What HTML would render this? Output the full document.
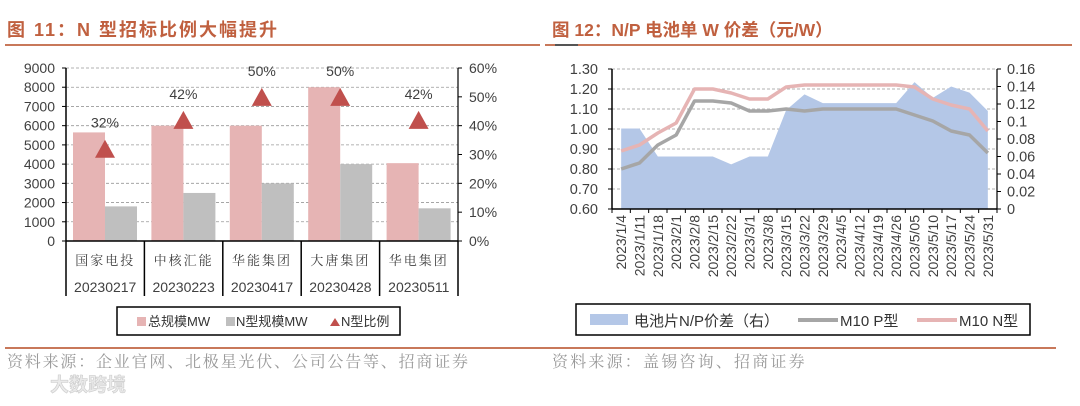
<!DOCTYPE html>
<html><head><meta charset="utf-8">
<style>
body{margin:0;background:#fff;width:1080px;height:401px;overflow:hidden;font-family:"Liberation Sans","Noto Sans CJK SC",sans-serif}
svg text{font-family:"Liberation Sans","Noto Sans CJK SC",sans-serif}
svg text.serif{font-family:"Liberation Serif","Noto Serif CJK SC",serif}
</style></head><body>
<svg id="s" width="1080" height="401" viewBox="0 0 1080 401" xmlns="http://www.w3.org/2000/svg">
<text x="7" y="36" font-size="18" font-weight="bold" letter-spacing="2" fill="#c0603f">图 11：N 型招标比例大幅提升</text>
<line x1="5" y1="45" x2="540" y2="45" stroke="#c8785a" stroke-width="2"/>
<text x="552" y="36" font-size="17.5" font-weight="bold" fill="#c0603f">图 12：N/P 电池单 W 价差（元/W）</text>
<line x1="545" y1="45" x2="1072" y2="45" stroke="#c8785a" stroke-width="2"/>
<line x1="555" y1="45" x2="578" y2="45" stroke="#555" stroke-width="2"/>
<g id="L"></g><g id="R"></g>
<rect x="117" y="307" width="283" height="28" fill="#fff" stroke="#000" stroke-width="1.5"/>
<rect x="137" y="317" width="9" height="9" fill="#e6b4b4"/>
<text x="148" y="326" font-size="13" fill="#333">总规模MW</text>
<rect x="226" y="317" width="9" height="9" fill="#bfbfbf"/>
<text x="236" y="326" font-size="13" fill="#333">N型规模MW</text>
<polygon points="330,326 340,326 335,318" fill="#c0504d"/>
<text x="341" y="326" font-size="13" fill="#333">N型比例</text>
<rect x="576" y="304" width="454" height="31" fill="#fff" stroke="#000" stroke-width="1.5"/>
<rect x="590" y="314" width="38" height="11" fill="#b4c7e7"/>
<text x="634" y="326" font-size="15" fill="#333">电池片N/P价差（右）</text>
<line x1="798" y1="320" x2="838" y2="320" stroke="#a6a6a6" stroke-width="4"/>
<text x="840" y="326" font-size="15" fill="#333">M10 P型</text>
<line x1="917" y1="320" x2="957" y2="320" stroke="#e6b4b4" stroke-width="4"/>
<text x="959" y="326" font-size="15" fill="#333">M10 N型</text>
<line x1="5" y1="348" x2="540" y2="348" stroke="#c8785a" stroke-width="2"/>
<line x1="540" y1="348" x2="1056" y2="348" stroke="#c8785a" stroke-width="2"/>
<text class="serif" x="7" y="367" font-size="16" letter-spacing="1.8" fill="#999">资料来源：企业官网、北极星光伏、公司公告等、招商证券</text>
<text class="serif" x="552" y="367" font-size="16" letter-spacing="2.2" fill="#999">资料来源：盖锡咨询、招商证券</text>
<text x="50" y="391" font-size="19" font-weight="bold" fill="#eaeaea" stroke="#ccc" stroke-width="0.6">大数跨境</text>
</svg>
<script>
const NS='http://www.w3.org/2000/svg';
function mk(p,t,a){const e=document.createElementNS(NS,t);for(const k in a)e.setAttribute(k,a[k]);p.appendChild(e);return e;}
// ---- Left chart data ----
const leftCats=['国家电投','中核汇能','华能集团','大唐集团','华电集团'];
const leftDates=['20230217','20230223','20230417','20230428','20230511'];
const totalMW=[5650,6000,6000,8000,4050];
const nMW=[1800,2500,3000,4000,1700];
const nRatio=[32,42,50,50,42];
const leftTicks=[0,1000,2000,3000,4000,5000,6000,7000,8000,9000];
const rightPctTicks=[0,10,20,30,40,50,60];
// ---- Right chart data ----
const rDates=['2023/1/4','2023/1/11','2023/1/18','2023/2/1','2023/2/8','2023/2/15','2023/2/22','2023/3/1','2023/3/8','2023/3/15','2023/3/22','2023/3/29','2023/4/5','2023/4/12','2023/4/19','2023/4/26','2023/5/05','2023/5/10','2023/5/17','2023/5/24','2023/5/31'];
const pPrice=[0.80,0.83,0.92,0.97,1.14,1.14,1.13,1.09,1.09,1.10,1.09,1.10,1.10,1.10,1.10,1.10,1.07,1.04,0.99,0.97,0.88];
const nPrice=[0.89,0.92,0.98,1.03,1.20,1.20,1.18,1.15,1.15,1.21,1.22,1.22,1.22,1.22,1.22,1.22,1.21,1.15,1.12,1.10,0.99];
const spread=[0.092,0.092,0.060,0.060,0.060,0.060,0.051,0.060,0.060,0.113,0.131,0.121,0.121,0.121,0.121,0.121,0.145,0.127,0.140,0.133,0.112];
const rLeftTicks=['0.60','0.70','0.80','0.90','1.00','1.10','1.20','1.30'];
const rRightTicks=['0','0.02','0.04','0.06','0.08','0.1','0.12','0.14','0.16'];

(function(){
const g=document.getElementById('L');
const x0=66,x1=458,yT=68,yB=241,n=leftCats.length,bw=(x1-x0)/n;
const y=v=>yB-(v/9000)*(yB-yT), y2=v=>yB-(v/60)*(yB-yT);
leftTicks.forEach(t=>{
  if(t>0){const l=mk(g,'line',{x1:x0,x2:x1,y1:y(t),y2:y(t),stroke:'#999','stroke-dasharray':'3,2','stroke-width':0.8});
  
  }
  const tx=mk(g,'text',{x:x0-11,y:y(t)+5,'font-size':14,fill:'#404040','text-anchor':'end'});tx.textContent=t;
  
  
  const tk=mk(g,'line',{x1:x0-4,x2:x0,y1:y(t),y2:y(t),stroke:'#000'});
  
  
});
rightPctTicks.forEach(t=>{
  const tx=mk(g,'text',{x:x1+11,y:y2(t)+5,'font-size':14,fill:'#404040'});tx.textContent=t+'%';
  
  
  const tk=mk(g,'line',{x1:x1,x2:x1+4,y1:y2(t),y2:y2(t),stroke:'#000'});
  
  
});
for(let i=0;i<n;i++){
  const cx=x0+i*bw;
  const b1=mk(g,'rect',{x:cx+7,y:y(totalMW[i]),width:32,height:yB-y(totalMW[i]),fill:'#e6b4b4'});
  
  
  const b2=mk(g,'rect',{x:cx+39,y:y(nMW[i]),width:32,height:yB-y(nMW[i]),fill:'#bfbfbf'});
  
  
  const ty=y2(nRatio[i]), tx=cx+39;
  const tri=mk(g,'polygon',{points:`${tx-10},${ty+9} ${tx+10},${ty+9} ${tx},${ty-9}`,fill:'#c0504d'});
  
  
  const lb=mk(g,'text',{x:tx,y:ty-21,'font-size':14,fill:'#404040','text-anchor':'middle'});lb.textContent=nRatio[i]+'%';
  
  
  const c=mk(g,'text',{x:cx+bw/2,y:265,'font-size':13,fill:'#404040','text-anchor':'middle','letter-spacing':'2',class:'serif'});c.textContent=leftCats[i];
  
  
  const d=mk(g,'text',{x:cx+bw/2,y:292,'font-size':14,fill:'#404040','text-anchor':'middle'});d.textContent=leftDates[i];
  
  
}
for(let i=0;i<=n;i++){const l=mk(g,'line',{x1:x0+i*bw,x2:x0+i*bw,y1:yB,y2:296,stroke:'#000','stroke-width':1.5});
  
  }
const a1=mk(g,'line',{x1:x0,x2:x0,y1:yT,y2:yB,stroke:'#000','stroke-width':1.5});


const a2=mk(g,'line',{x1:x1,x2:x1,y1:yT,y2:yB,stroke:'#000','stroke-width':1.2});


const a3=mk(g,'line',{x1:x0,x2:x1,y1:yB,y2:yB,stroke:'#000','stroke-width':1.5});


})();

(function(){
const g=document.getElementById('R');
const x0=612,x1=997,yT=69,yB=209,n=rDates.length,bw=(x1-x0)/n;
const xc=i=>x0+bw*(i+0.5);
const y=v=>yB-(v-0.6)/0.7*(yB-yT), y2=v=>yB-(v/0.16)*(yB-yT);
rLeftTicks.forEach(t=>{const v=+t;
  if(v>0.6){const l=mk(g,'line',{x1:x0,x2:x1,y1:y(v),y2:y(v),stroke:'#999','stroke-dasharray':'3,2','stroke-width':0.8});
  
  }
  const tx=mk(g,'text',{x:x0-14,y:y(v)+5,'font-size':14.5,fill:'#404040','text-anchor':'end'});tx.textContent=t;
  
  
  const tk=mk(g,'line',{x1:x0-4,x2:x0,y1:y(v),y2:y(v),stroke:'#000'});
  
  
});
let d=`M${xc(0)},${yB}`;spread.forEach((v,i)=>d+=` L${xc(i)},${y2(v)}`);d+=` L${xc(n-1)},${yB}Z`;
const ar=mk(g,'path',{d:d,fill:'#b4c7e7'});


rRightTicks.forEach(t=>{const v=+t;
  const tx=mk(g,'text',{x:x1+10,y:y2(v)+5,'font-size':14.5,fill:'#404040'});tx.textContent=t;
  
  
  const tk=mk(g,'line',{x1:x1,x2:x1+4,y1:y2(v),y2:y2(v),stroke:'#000'});
  
  
});
const lp=mk(g,'polyline',{points:pPrice.map((v,i)=>xc(i)+','+y(v)).join(' '),fill:'none',stroke:'#a6a6a6','stroke-width':3.5,'stroke-linejoin':'round'});


const ln=mk(g,'polyline',{points:nPrice.map((v,i)=>xc(i)+','+y(v)).join(' '),fill:'none',stroke:'#e6b4b4','stroke-width':3.5,'stroke-linejoin':'round'});


for(let i=0;i<=n;i++){const tk=mk(g,'line',{x1:x0+i*bw,x2:x0+i*bw,y1:yB,y2:yB+4,stroke:'#000'});
  
  }
rDates.forEach((t,i)=>{
  const tx=mk(g,'text',{x:0,y:0,'font-size':14,fill:'#404040','text-anchor':'end',transform:`translate(${xc(i)+5},215) rotate(-90)`});tx.textContent=t;
  
  
});
const a1=mk(g,'line',{x1:x0,x2:x0,y1:yT,y2:yB,stroke:'#000','stroke-width':1.5});


const a2=mk(g,'line',{x1:x1,x2:x1,y1:yT,y2:yB,stroke:'#000','stroke-width':1.2});


const a3=mk(g,'line',{x1:x0,x2:x1,y1:yB,y2:yB,stroke:'#000','stroke-width':1.5});


})();
</script>
</body></html>
